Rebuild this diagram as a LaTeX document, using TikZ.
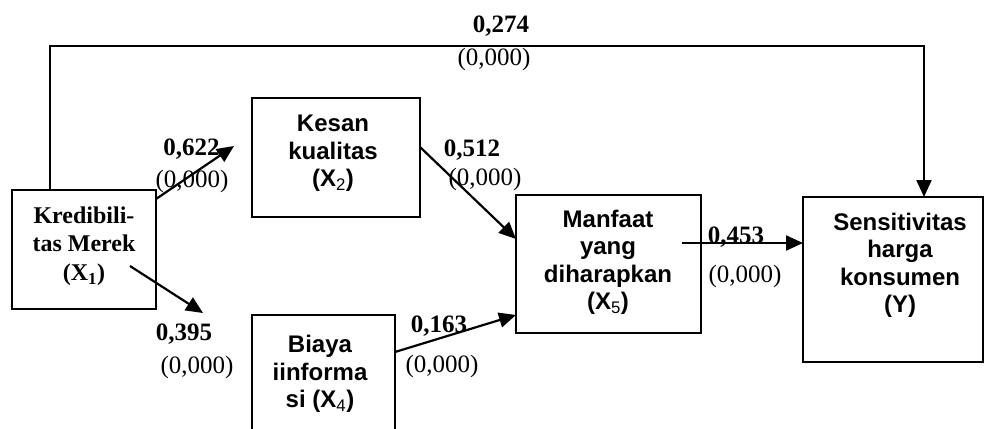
\documentclass[tikz,border=0pt]{standalone}
\usepackage{fontspec}
\setmainfont{Liberation Serif}
\setsansfont{Liberation Sans}
\usetikzlibrary{arrows.meta}
\tikzset{
  boxshape/.style={draw, line width=2pt, inner sep=0pt, outer sep=0pt},
  sanstxt/.style={font=\sffamily\bfseries\fontsize{24}{27.5}\selectfont, align=center, inner sep=0pt, anchor=north},
  serbtxt/.style={font=\rmfamily\bfseries\fontsize{24}{28.5}\selectfont, align=center, inner sep=0pt, anchor=north},
  coef/.style={font=\rmfamily\bfseries\fontsize{25}{30}\selectfont, inner sep=0pt, anchor=base},
  pval/.style={font=\rmfamily\fontsize{25}{30}\selectfont, inner sep=0pt, anchor=base},
  arr/.style={line width=2.2pt, -{Triangle[length=17pt,width=15pt]}},
}
\begin{document}
\begin{tikzpicture}[x=1pt,y=-1pt]
\useasboundingbox (0,0) rectangle (984,428);
\clip (0,0) rectangle (984,428);

% boxes
\node[boxshape, minimum width=144pt, minimum height=119pt] (x1) at (84,249.5) {};
\node[boxshape, minimum width=168pt, minimum height=119pt] (x2) at (336,157.5) {};
\node[boxshape, minimum width=143pt, minimum height=125pt] (x4) at (323.5,377.5) {};
\node[boxshape, minimum width=185pt, minimum height=138pt] (x5) at (608.5,264) {};
\node[boxshape, minimum width=180pt, minimum height=165pt] (ny) at (893,279.5) {};

% box texts
\node[serbtxt] (x1t) at (84,206.5) {Kredibili-\\tas Merek\\(X\textsubscript{1})};
\node[sanstxt] (x2t) at (333,115) {Kesan\\kualitas\\(X\textsubscript{\mdseries 2})};
\node[sanstxt] (x4t) at (320,335) {Biaya\\iinforma\\si (X\textsubscript{\mdseries 4})};
\node[sanstxt] (x5t) at (608,209.5) {Manfaat\\yang\\diharapkan\\(X\textsubscript{\mdseries 5})};
\node[sanstxt] (nyt) at (900,212.5) {Sensitivitas\\harga\\konsumen\\(Y)};

% free ends
\coordinate (t12) at (234,146);
\coordinate (s14) at (130,266);
\coordinate (t14) at (203,313);
\coordinate (s5y) at (682,243);

% connectors
\draw[arr] ([xshift=38pt]x1.north west) -- ++(0,-144) -| ([xshift=121pt]ny.north west);
\draw[arr] ([yshift=-9pt]x1.north east) -- (t12);
\draw[arr] (s14) -- (t14);
\draw[arr] ([yshift=10.5pt]x2.east) -- ([yshift=25pt]x5.west);
\draw[arr] ([yshift=25.5pt]x4.east) -- ([yshift=-51pt]x5.west);
\draw[arr] (s5y) -- ([yshift=36.5pt]ny.west);

% labels
\node[coef] (c1) at (501,33) {0,274};
\node[pval] (p1) at (494,65) {(0,000)};
\node[coef] (c2) at (191.5,155) {0,622};
\node[pval] (p2) at (192,187) {(0,000)};
\node[coef] (c3) at (472,156) {0,512};
\node[pval] (p3) at (485,185) {(0,000)};
\node[coef] (c4) at (184,340) {0,395};
\node[pval] (p4) at (197,373) {(0,000)};
\node[coef] (c5) at (439,332) {0,163};
\node[pval] (p5) at (442,372) {(0,000)};
\node[coef] (c6) at (736,243) {0,453};
\node[pval] (p6) at (745,282) {(0,000)};
\end{tikzpicture}
\end{document}
